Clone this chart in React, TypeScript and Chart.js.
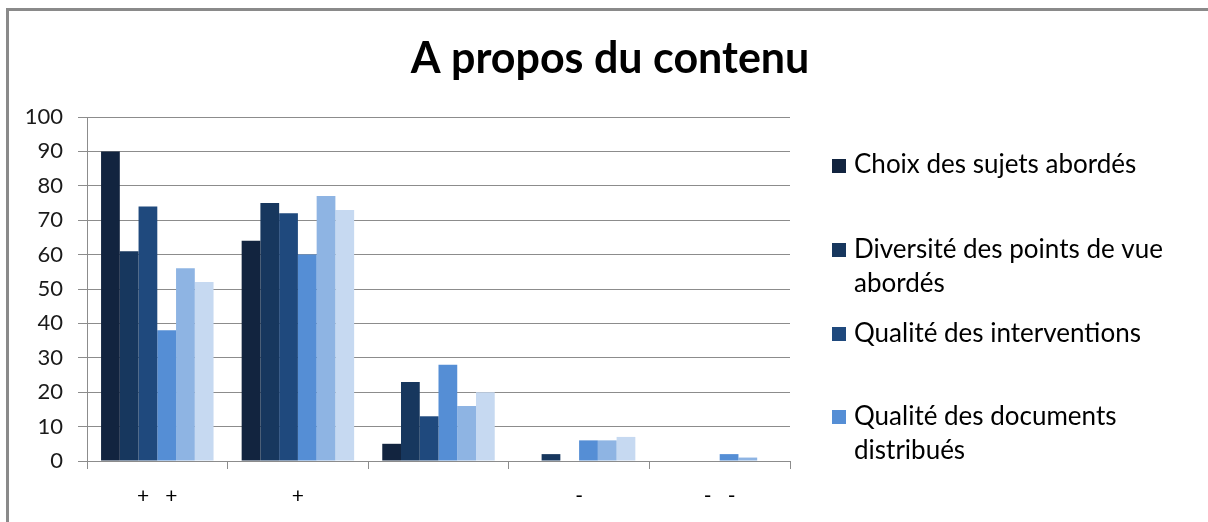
import React, { useEffect, useRef } from "react";
import { Chart, registerables } from "chart.js";

Chart.register(...registerables);

// ---- data ----
const TITLE = "A propos du contenu";
const categories = ["+   +", "+", "", "-", "-   -"];
const seriesNames = [
  "Choix des sujets abordés",
  "Diversité des points de vue abordés",
  "Qualité des interventions",
  "Qualité des documents distribués",
  "Série 5",
  "Série 6",
];
const choixSujets = [90, 64, 5, 0, 0];
const diversitePoints = [61, 75, 23, 2, 0];
const qualiteInterventions = [74, 72, 13, 0, 0];
const qualiteDocuments = [38, 60, 28, 6, 2];
const serie5 = [56, 77, 16, 6, 1];
const serie6 = [52, 73, 20, 7, 0];
const seriesValues = [choixSujets, diversitePoints, qualiteInterventions, qualiteDocuments, serie5, serie6];
const seriesColors = ["#12243F", "#17375E", "#1F497D", "#558ED5", "#8EB4E3", "#C6D9F1"];
const yMin = 0;
const yMax = 100;
const yStep = 10;
const visibleLegendItems = 4;

// ---- layout constants ----
const W = 1208;
const H = 522;
const AREA_LEFT = 87;
const AREA_RIGHT = 790;
const AREA_TOP = 117;
const AREA_BOTTOM = 461;
const FONT = "Lato";
const LEGEND_BOX_TOPS = [159, 243, 327, 410];
const LEGEND_BASELINES = [173, 258, 342, 425];

function wrapText(ctx: CanvasRenderingContext2D, text: string, maxW: number): string[] {
  const words = text.split(" ");
  const lines: string[] = [];
  let cur = "";
  for (const w of words) {
    const test = cur ? cur + " " + w : w;
    if (cur && ctx.measureText(test).width > maxW) {
      lines.push(cur);
      cur = w;
    } else {
      cur = test;
    }
  }
  if (cur) lines.push(cur);
  return lines;
}

const overlayPlugin = {
  id: "overlay",
  afterDraw(chart: any) {
    const ctx = chart.ctx as CanvasRenderingContext2D;
    ctx.save();
    ctx.fillStyle = "#000";
    ctx.font = `bold 43px ${FONT}`;
    ctx.textAlign = "center";
    ctx.textBaseline = "alphabetic";
    ctx.fillText(TITLE, 610, 73);

    ctx.font = `26px ${FONT}`;
    ctx.textAlign = "left";
    for (let i = 0; i < visibleLegendItems; i++) {
      const ds = chart.data.datasets[i];
      ctx.fillStyle = ds.backgroundColor;
      ctx.fillRect(832, LEGEND_BOX_TOPS[i], 14, 14);
      ctx.fillStyle = "#000";
      const lines = wrapText(ctx, ds.label, 330);
      lines.forEach((ln, j) => ctx.fillText(ln, 854, LEGEND_BASELINES[i] + j * 33.5));
    }
    ctx.restore();
  },
};

export default function App() {
  const canvasRef = useRef<HTMLCanvasElement | null>(null);

  useEffect(() => {
    if (!canvasRef.current) return;
    const chart = new Chart(canvasRef.current, {
      type: "bar",
      data: {
        labels: categories,
        datasets: seriesNames.map((name, i) => ({
          label: name,
          data: seriesValues[i],
          backgroundColor: seriesColors[i],
          borderWidth: 0,
          categoryPercentage: 0.8,
          barPercentage: 1.0,
        })),
      },
      options: {
        animation: false,
        responsive: false,
        maintainAspectRatio: false,
        layout: {
          padding: { left: 0, top: AREA_TOP, right: W - AREA_RIGHT, bottom: 0 },
        },
        plugins: {
          legend: { display: false },
          title: { display: false },
          tooltip: { enabled: false },
        },
        scales: {
          x: {
            grid: {
              display: true,
              drawOnChartArea: false,
              drawTicks: true,
              tickLength: 8,
              color: "#8c8c8c",
              offset: true,
            },
            border: { display: true, color: "#8c8c8c", width: 1 },
            ticks: {
              color: "#000",
              font: { family: FONT, size: 21 },
              padding: 15,
              maxRotation: 0,
              autoSkip: false,
            },
            afterFit: (scale: any) => {
              scale.height = H - AREA_BOTTOM;
            },
          },
          y: {
            min: yMin,
            max: yMax,
            grid: {
              color: "#8c8c8c",
              lineWidth: 1,
              tickLength: 9,
              drawTicks: true,
            },
            border: { display: true, color: "#8c8c8c", width: 1 },
            ticks: {
              stepSize: yStep,
              color: "#1a1a1a",
              font: { family: FONT, size: 22 },
              padding: 15,
            },
            afterFit: (scale: any) => {
              scale.width = AREA_LEFT;
            },
          },
        },
      },
      plugins: [overlayPlugin],
    });
    return () => chart.destroy();
  }, []);

  return (
    <div style={{ position: "relative", width: W, height: H, overflow: "hidden", background: "#fff" }}>
      <style>{`body{margin:0;}`}</style>
      <div
        style={{
          position: "absolute",
          left: 6,
          top: 8,
          width: W + 20,
          height: H + 20,
          borderTop: "3px solid #8a8a8a",
          borderLeft: "3px solid #8a8a8a",
          boxSizing: "border-box",
        }}
      />
      <canvas
        ref={canvasRef}
        width={W}
        height={H}
        style={{ position: "absolute", left: 0, top: 0, width: W, height: H }}
      />
    </div>
  );
}
